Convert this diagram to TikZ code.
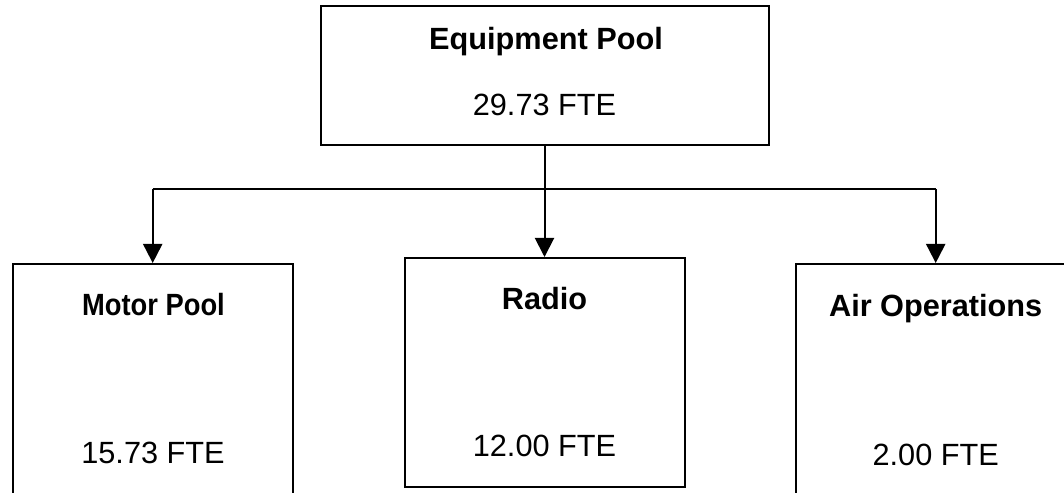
\documentclass[tikz,border=0pt]{standalone}
\usepackage{fontspec}
\setmainfont{Liberation Sans}
\usetikzlibrary{arrows.meta}
\tikzset{
  orgbox/.style={draw=black, line width=1pt, fill=white, rectangle, inner sep=0pt},
  lbl/.style={anchor=base, inner sep=0pt, font=\fontsize{15.35pt}{18pt}\selectfont},
  blbl/.style={lbl, font=\fontsize{15.35pt}{18pt}\selectfont\bfseries},
  conn/.style={draw=black, line width=1pt},
  arr/.style={conn, -{Triangle[width=9.6pt, length=9.6pt]}}
}
\begin{document}
\begin{tikzpicture}[x=0.5pt, y=-0.5pt]
\useasboundingbox (0,0) rectangle (1064,492);
\fill[white] (0,0) rectangle (1064,492);
\clip (0,0) rectangle (1064,492);
% boxes
\node[orgbox, minimum width=224pt, minimum height=69.65pt] (top) at (544.5,75.35) {};
\node[orgbox, minimum width=140pt, minimum height=114.65pt] (radio) at (544.5,372.65) {};
\node[orgbox, minimum width=140pt, minimum height=138pt] (motor) at (152.7,402) {};
\node[orgbox, minimum width=140pt, minimum height=138pt] (air) at (935.7,402) {};
% labels
\node[blbl] (topt) at (546,50) {Equipment Pool};
\node[lbl] (topv) at (544.5,115) {29.73 FTE};
\node[blbl] (motort) at (153.5,315) {\scalebox{0.89}[1]{Motor Pool}};
\node[lbl] (motorv) at (153,463.3) {15.73 FTE};
\node[blbl] (radiot) at (544.5,309.3) {Radio};
\node[lbl] (radiov) at (544.5,456.7) {12.00 FTE};
\node[blbl] (airt) at (935.7,316.7) {Air Operations};
\node[lbl] (airv) at (935.7,465) {2.00 FTE};
% connectors
\coordinate (bus) at (544.5,189);
\draw[conn] (motor.north |- bus) -- (air.north |- bus);
\draw[arr] (top.south) -- (radio.north);
\draw[arr] (motor.north |- bus) -- (motor.north);
\draw[arr] (air.north |- bus) -- (air.north);
\end{tikzpicture}
\end{document}
